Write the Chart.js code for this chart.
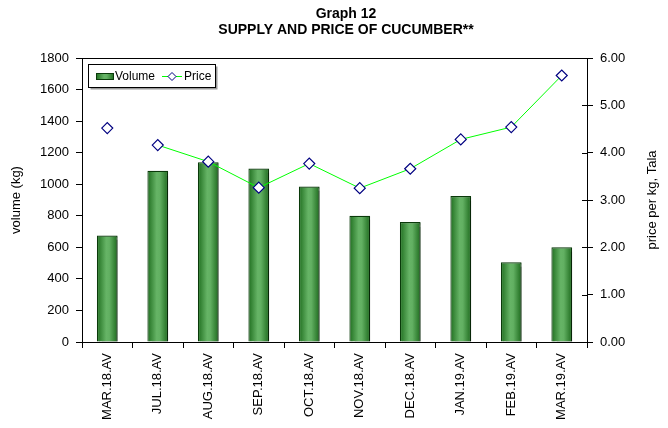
<!DOCTYPE html>
<html>
<head>
<meta charset="utf-8">
<script src="https://cdn.jsdelivr.net/npm/chart.js@4.4.1/dist/chart.umd.min.js"></script>
<style>
html,body{margin:0;padding:0;background:#fff;}
#wrap{width:668px;height:428px;position:relative;}
</style>
</head>
<body>
<div id="wrap"><canvas id="c" width="668" height="428"></canvas></div>
<script>
const categories = ["MAR.18.AV","JUL.18.AV","AUG.18.AV","SEP.18.AV","OCT.18.AV","NOV.18.AV","DEC.18.AV","JAN.19.AV","FEB.19.AV","MAR.19.AV"];
const volume = [675, 1085, 1140, 1100, 985, 800, 760, 925, 505, 600];
const price = [4.52, 4.16, 3.81, 3.26, 3.77, 3.25, 3.66, 4.28, 4.54, 5.63];
const volumeTicks = [0, 200, 400, 600, 800, 1000, 1200, 1400, 1600, 1800];
const priceTicks = [0, 1, 2, 3, 4, 5, 6];
const titleLines = ["Graph 12", "SUPPLY AND PRICE OF CUCUMBER**"];
const leftTitle = "volume (kg)";
const rightTitle = "price per kg, Tala";
const legendLabels = ["Volume", "Price"];

const FONT = "Liberation Sans, Arial, sans-serif";

function barGradient(ctx, x0, x1) {
  const g = ctx.createLinearGradient(x0, 0, x1, 0);
  g.addColorStop(0, '#1f6e1f');
  g.addColorStop(0.45, '#66b466');
  g.addColorStop(0.6, '#62b062');
  g.addColorStop(1, '#1d6a1d');
  return g;
}

const decor = {
  id: 'decor',
  beforeDatasetDraw(chart, args) {
    if (args.index === 1) {
      const ctx = chart.ctx;
      ctx.save();
      ctx.shadowColor = 'rgba(0,0,0,0.35)';
      ctx.shadowOffsetX = 2;
      ctx.shadowOffsetY = 1;
      ctx.shadowBlur = 1;
    }
  },
  afterDatasetDraw(chart, args) {
    if (args.index === 1) chart.ctx.restore();
  },
  afterDraw(chart) {
    const ctx = chart.ctx;
    const a = chart.chartArea;
    ctx.save();
    // plot border (top)
    ctx.strokeStyle = '#000';
    ctx.lineWidth = 1;
    ctx.beginPath();
    ctx.moveTo(a.left, Math.round(a.top) + 0.5);
    ctx.lineTo(a.right, Math.round(a.top) + 0.5);
    ctx.stroke();
    // right axis ticks crossing inward
    const ys = chart.scales.y1;
    ctx.beginPath();
    priceTicks.forEach(v => {
      const y = Math.round(ys.getPixelForValue(v)) + 0.5;
      ctx.moveTo(a.right - 5, y);
      ctx.lineTo(a.right, y);
    });
    ctx.stroke();
    // title
    ctx.fillStyle = '#000';
    ctx.font = 'bold 14px ' + FONT;
    ctx.textAlign = 'center';
    ctx.textBaseline = 'middle';
    ctx.fillText(titleLines[0], 346, 14);
    ctx.fillText(titleLines[1], 346, 30);
    // right axis title
    ctx.save();
    ctx.translate(652, (a.top + a.bottom) / 2);
    ctx.rotate(-Math.PI / 2);
    ctx.font = '13px ' + FONT;
    ctx.fillText(rightTitle, 0, 0);
    ctx.restore();
    // legend box
    const bx = 88.5, by = 64.5, bw = 127, bh = 23;
    ctx.fillStyle = '#9a9a9a';
    ctx.fillRect(bx + 2, by + 2, bw, bh);
    ctx.fillStyle = '#fff';
    ctx.fillRect(bx, by, bw, bh);
    ctx.strokeStyle = '#000';
    ctx.strokeRect(bx, by, bw, bh);
    // swatch
    const sy = 73, sx0 = 96, sx1 = 114;
    ctx.fillStyle = barGradient(ctx, sx0, sx1);
    ctx.fillRect(sx0, sy, sx1 - sx0, 7);
    ctx.strokeStyle = '#0a3a0a';
    ctx.strokeRect(sx0 + 0.5, sy + 0.5, sx1 - sx0 - 1, 6);
    ctx.fillStyle = '#000';
    ctx.font = '12px ' + FONT;
    ctx.textAlign = 'left';
    ctx.fillText(legendLabels[0], 115, 76.5);
    // price line sample
    ctx.strokeStyle = '#00ff00';
    ctx.beginPath();
    ctx.moveTo(162, 76.5);
    ctx.lineTo(182, 76.5);
    ctx.stroke();
    ctx.beginPath();
    ctx.moveTo(172, 72.5); ctx.lineTo(176, 76.5); ctx.lineTo(172, 80.5); ctx.lineTo(168, 76.5); ctx.closePath();
    ctx.fillStyle = '#fff';
    ctx.fill();
    ctx.strokeStyle = '#000080';
    ctx.stroke();
    ctx.fillStyle = '#000';
    ctx.fillText(legendLabels[1], 184, 76.5);
    ctx.restore();
  }
};

const ctx = document.getElementById('c').getContext('2d');
new Chart(ctx, {
  data: {
    labels: categories,
    datasets: [
      {
        type: 'line',
        label: 'Price',
        data: price,
        yAxisID: 'y1',
        borderColor: '#00ff00',
        borderWidth: 1,
        tension: 0,
        pointStyle: 'rectRot',
        pointRadius: 5.5,
        pointBackgroundColor: '#fff',
        pointBorderColor: '#000080',
        pointBorderWidth: 1.2,
        segment: {
          borderColor: c => c.p0DataIndex === 0 ? 'rgba(0,0,0,0)' : '#00ff00'
        },
        order: 0
      },
      {
        type: 'bar',
        label: 'Volume',
        data: volume,
        yAxisID: 'y',
        backgroundColor: (c) => {
          const chart = c.chart;
          if (!chart.chartArea || !chart.scales.x) return '#4a9a4a';
          const x = chart.scales.x.getPixelForValue(c.dataIndex);
          const w = (chart.chartArea.right - chart.chartArea.left) / categories.length * 0.41;
          return barGradient(chart.ctx, x - w / 2, x + w / 2);
        },
        borderColor: '#0a3a0a',
        borderWidth: 1.2,
        barPercentage: 0.41,
        categoryPercentage: 1,
        order: 1
      }
    ]
  },
  options: {
    responsive: false,
    animation: false,
    devicePixelRatio: 1,
    layout: { padding: { top: 58, left: 0, right: 0, bottom: 0 } },
    plugins: { legend: { display: false }, title: { display: false }, tooltip: { enabled: false } },
    scales: {
      x: {
        offset: true,
        grid: { display: true, drawOnChartArea: false, offset: true, tickLength: 6, color: '#000' },
        border: { display: true, color: '#000', width: 1 },
        ticks: { color: '#000', font: { family: FONT, size: 13 }, minRotation: 90, maxRotation: 90, padding: 5, autoSkip: false },
        afterFit: s => { s.height = 86; }
      },
      y: {
        position: 'left',
        min: 0, max: 1800,
        afterBuildTicks: s => { s.ticks = volumeTicks.map(v => ({ value: v })); },
        grid: { display: true, drawOnChartArea: false, tickLength: 6, color: '#000' },
        border: { display: true, color: '#000', width: 1 },
        ticks: { color: '#000', font: { family: FONT, size: 13 }, padding: 7, callback: v => String(v) },
        title: { display: true, text: leftTitle, color: '#000', font: { family: FONT, size: 13 }, padding: { top: 9, bottom: 0 } },
        afterFit: s => { s.width = 82; }
      },
      y1: {
        position: 'right',
        min: 0, max: 6,
        afterBuildTicks: s => { s.ticks = priceTicks.map(v => ({ value: v })); },
        grid: { display: true, drawOnChartArea: false, tickLength: 6, color: '#000' },
        border: { display: true, color: '#000', width: 1 },
        ticks: { color: '#000', font: { family: FONT, size: 13 }, padding: 7, callback: v => Number(v).toFixed(2) },
        afterFit: s => { s.width = 81; }
      }
    }
  },
  plugins: [decor]
});
</script>
</body>
</html>
